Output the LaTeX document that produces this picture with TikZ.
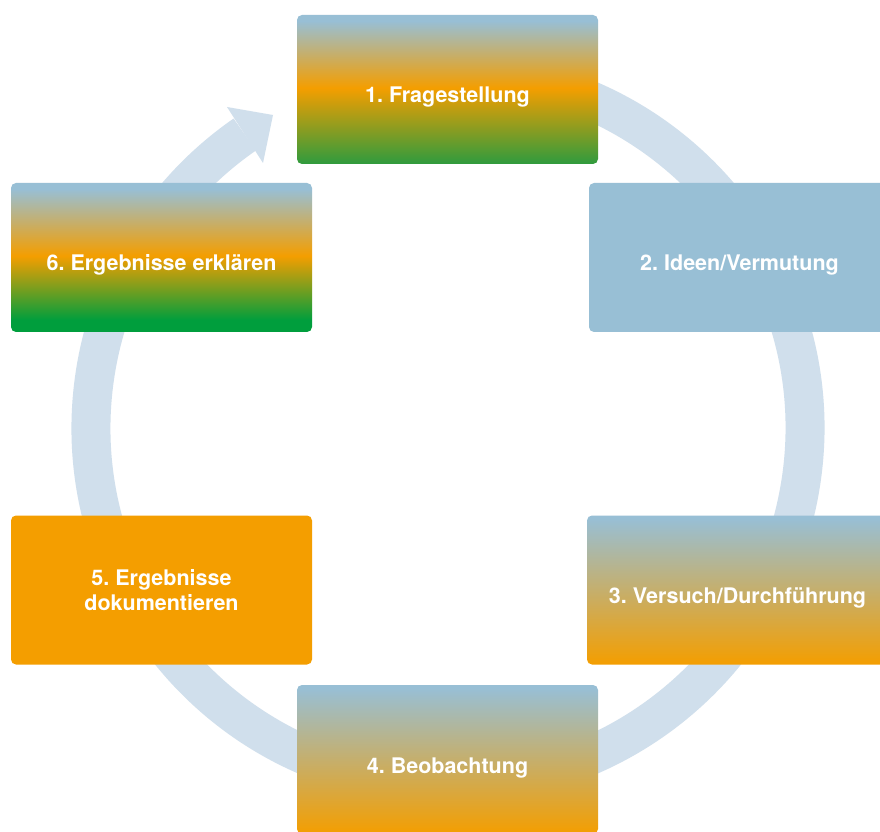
\documentclass[tikz,border=0pt]{standalone}
\usepackage{fontspec}
\setmainfont{TeX Gyre Heros}
\frenchspacing
\definecolor{ringc}{RGB}{208,223,236}
\definecolor{blc}{RGB}{152,191,213}
\definecolor{orc}{RGB}{244,158,0}
\definecolor{grA}{RGB}{47,155,62}
\definecolor{grB}{RGB}{0,158,61}
\pgfdeclareverticalshading{shA}{100bp}{color(0bp)=(grA); color(25bp)=(grA); color(50.5bp)=(orc); color(73bp)=(blc); color(100bp)=(blc)}
\pgfdeclareverticalshading{shF}{100bp}{color(0bp)=(grB); color(29bp)=(grB); color(50.5bp)=(orc); color(73bp)=(blc); color(100bp)=(blc)}
\pgfdeclareverticalshading{shC}{100bp}{color(0bp)=(orc); color(25bp)=(orc); color(74bp)=(blc); color(100bp)=(blc)}
\begin{document}
\frenchspacing
\begin{tikzpicture}[x=1pt,y=1pt,
  box/.style={rectangle, rounded corners=5pt, minimum width=301pt, minimum height=149pt,
    inner sep=0pt, text=white, align=center,
    font=\bfseries\fontsize{21.5}{25}\selectfont},
  oneline/.style={text height=27pt, text depth=0pt},
  ringline/.style={draw=ringc, line width=39pt}]
\useasboundingbox (0,0) rectangle (880,831);
\clip (0,0) rectangle (880,831);
\fill[white] (0,0) rectangle (880,831);
% ring with arrow
\coordinate (c) at (448,403);
\draw[ringline] (c) ++(80:357) arc[start angle=80, end angle=-235.3, radius=357];
\coordinate (t1) at (227,724);
\coordinate (t2) at (273,716);
\coordinate (t3) at (263,668);
\fill[ringc] (t1) -- (t2) -- (t3) -- cycle;
% boxes
\node[box, oneline, shading=shA] (b1) at (447.5,741.5) {1. Fragestellung};
\node[box, oneline, fill=blc] (b2) at (739.5,573.5) {2. Ideen/Vermutung};
\node[box, oneline, shading=shC] (b3) at (737.5,241) {3. Versuch/Durchführung};
\node[box, oneline, shading=shC] (b4) at (447.5,71.5) {4. Beobachtung};
\node[box, fill=orc] (b5) at (161.5,241) {5. Ergebnisse\\dokumentieren};
\node[box, oneline, shading=shF] (b6) at (161.5,573.5) {6. Ergebnisse erklären};
\end{tikzpicture}
\end{document}
